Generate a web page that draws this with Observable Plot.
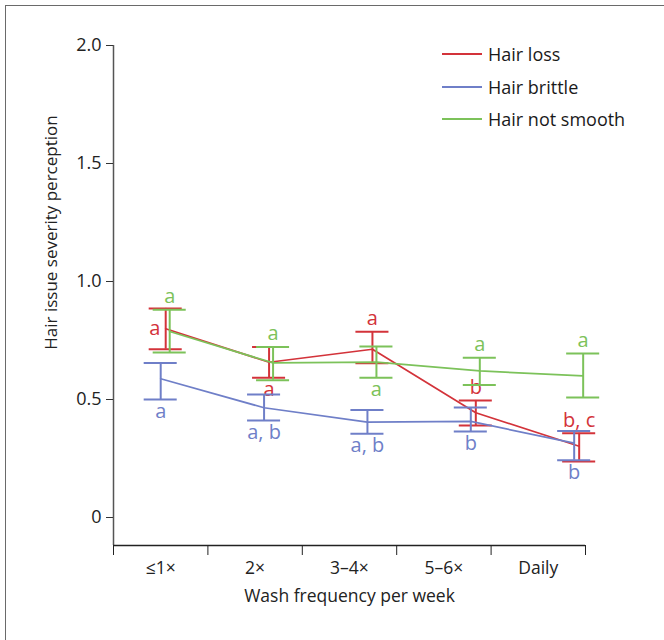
<!DOCTYPE html>
<html>
<head>
<meta charset="utf-8">
<script src="https://cdn.jsdelivr.net/npm/d3@7"></script>
<script src="https://cdn.jsdelivr.net/npm/@observablehq/plot@0.6"></script>
<style>
  html, body { margin: 0; padding: 0; background: #fff; }
  #wrap { position: relative; width: 664px; height: 640px; overflow: hidden; font-family: "Open Sans", "Noto Sans", sans-serif; }
  #frame { position: absolute; left: 5px; top: 5px; width: 700px; height: 700px; border: 1.5px solid #6a6a6a; box-sizing: border-box; pointer-events: none; }
  #legend { position: absolute; left: 442px; top: 38px; font-size: 18px; color: #1a1a1a; }
  #legend .row { display: flex; align-items: center; height: 32.5px; }
  #legend .sw { width: 40px; height: 2px; margin-right: 6px; }
  svg { position: absolute; left: 0; top: 0; }
</style>
</head>
<body>
<div id="wrap">
  <div id="chart"></div>
  <div id="legend"></div>
  <div id="frame"></div>
</div>
<script>
// ---- data ----
const categories = ["≤1×", "2×", "3–4×", "5–6×", "Daily"];
const seriesNames = ["Hair loss", "Hair brittle", "Hair not smooth"];
const seriesColors = ["#d3333a", "#6f7fc8", "#7cc25a"];

const lossMean = [0.800, 0.658, 0.713, 0.444, 0.302];
const lossLow  = [0.713, 0.592, 0.654, 0.390, 0.237];
const lossHigh = [0.886, 0.723, 0.787, 0.496, 0.357];
const lossLetters = ["a", "a", "a", "b", "b, c"];
const lossSide = ["left", "below", "above", "above", "above"];

const brittleMean = [0.588, 0.465, 0.404, 0.407, 0.315];
const brittleLow  = [0.500, 0.411, 0.355, 0.364, 0.243];
const brittleHigh = [0.655, 0.521, 0.456, 0.466, 0.367];
const brittleLetters = ["a", "a, b", "a, b", "b", "b"];
const brittleSide = ["below", "below", "below", "below", "below"];

const smoothMean = [0.788, 0.655, 0.658, 0.621, 0.600];
const smoothLow  = [0.699, 0.582, 0.592, 0.562, 0.508];
const smoothHigh = [0.880, 0.723, 0.725, 0.677, 0.695];
const smoothLetters = ["a", "a", "a", "a", "a"];
const smoothSide = ["above", "above", "below", "above", "above"];

const yTicks = [0, 0.5, 1.0, 1.5, 2.0];

// ---- build table ----
const seriesData = [
  {mean: lossMean, lo: lossLow, hi: lossHigh, letters: lossLetters, side: lossSide, dx: 5},
  {mean: brittleMean, lo: brittleLow, hi: brittleHigh, letters: brittleLetters, side: brittleSide, dx: 0},
  {mean: smoothMean, lo: smoothLow, hi: smoothHigh, letters: smoothLetters, side: smoothSide, dx: 9}
];
const step = 1.095;      // spacing of the plotted points along x
const capHalf = 0.175;   // half width of error-bar caps (x units)
const yMin = -0.1186;

const marks = [];
// axes
marks.push(Plot.ruleX([0.5], {y1: yMin, y2: 2, stroke: "#555", strokeWidth: 1.5}));
marks.push(Plot.ruleY([yMin], {x1: 0.5, x2: 5.5, stroke: "#222", strokeWidth: 1.3}));
marks.push(Plot.axisY({ticks: yTicks, tickFormat: d => d === 0 ? "0" : d.toFixed(1), tickSize: 7, tickPadding: 5, fontSize: 18, label: null, stroke: "#333", color: "#222"}));
marks.push(Plot.axisX({ticks: [0.5, 1.5, 2.5, 3.5, 4.5, 5.5], tickSize: 10, tickFormat: () => "", label: null, anchor: "bottom", stroke: "#222"}));
marks.push(Plot.text(categories, {x: (d, i) => i + 1, y: () => yMin, text: d => d, dy: 23, fontSize: 17.5, fill: "#222"}));
marks.push(Plot.text(["Wash frequency per week"], {frameAnchor: "bottom", dy: 56, fontSize: 17.5, fill: "#222"}));
marks.push(Plot.text(["Hair issue severity perception"], {frameAnchor: "left", textAnchor: "middle", rotate: -90, dx: -62, dy: -63, fontSize: 17, fill: "#222"}));

seriesData.forEach((s, k) => {
  const color = seriesColors[k];
  const rows = s.mean.map((m, i) => ({x: 1 + i * step, mean: m, lo: s.lo[i], hi: s.hi[i], letter: s.letters[i], side: s.side[i]}));
  marks.push(Plot.line(rows, {x: "x", y: "mean", stroke: color, strokeWidth: 1.7, dx: s.dx}));
  marks.push(Plot.ruleX(rows, {x: "x", y1: "lo", y2: "hi", stroke: color, strokeWidth: 2, dx: s.dx}));
  marks.push(Plot.ruleY(rows, {y: "hi", x1: d => d.x - capHalf, x2: d => d.x + capHalf, stroke: color, strokeWidth: 2, dx: s.dx}));
  marks.push(Plot.ruleY(rows, {y: "lo", x1: d => d.x - capHalf, x2: d => d.x + capHalf, stroke: color, strokeWidth: 2, dx: s.dx}));
  marks.push(Plot.text(rows.filter(r => r.side === "above"), {x: "x", y: "hi", text: "letter", dx: s.dx, dy: -13, fill: color, fontSize: 20}));
  marks.push(Plot.text(rows.filter(r => r.side === "below"), {x: "x", y: "lo", text: "letter", dx: s.dx, dy: 12, fill: color, fontSize: 20}));
  marks.push(Plot.text(rows.filter(r => r.side === "left"), {x: "x", y: "mean", text: "letter", dx: s.dx - 11, fill: color, fontSize: 20}));
});

const chart = Plot.plot({
  width: 664,
  height: 640,
  marginLeft: 113,
  marginRight: 79,
  marginTop: 45,
  marginBottom: 95,
  style: {fontFamily: "'Open Sans', 'Noto Sans', sans-serif", background: "transparent", overflow: "visible"},
  x: {domain: [0.5, 5.5], axis: null},
  y: {domain: [yMin, 2], axis: null},
  marks
});
document.getElementById("chart").appendChild(chart);

// legend
const legend = document.getElementById("legend");
seriesNames.forEach((name, k) => {
  const row = document.createElement("div");
  row.className = "row";
  const sw = document.createElement("div");
  sw.className = "sw";
  sw.style.background = seriesColors[k];
  const label = document.createElement("span");
  label.textContent = name;
  row.appendChild(sw);
  row.appendChild(label);
  legend.appendChild(row);
});
</script>
</body>
</html>
